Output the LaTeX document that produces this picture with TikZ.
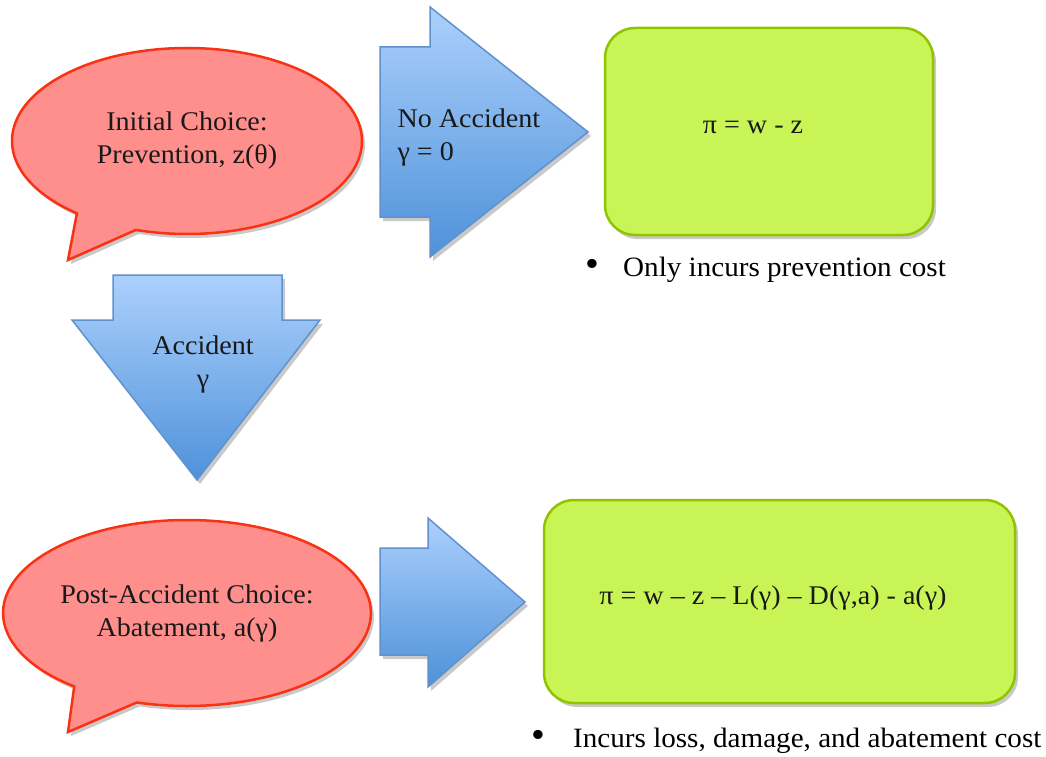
\documentclass[tikz,border=0pt]{standalone}
\usepackage{fontspec}
\setmainfont{Liberation Serif}[FakeStretch=1.04]
\usetikzlibrary{shapes.callouts,shadows}

\definecolor{bubblefill}{RGB}{255,143,140}
\definecolor{bubbleline}{RGB}{250,50,20}
\definecolor{arrowtop}{RGB}{172,208,252}
\definecolor{arrowbot}{RGB}{78,146,218}
\definecolor{arrowline}{RGB}{95,145,205}
\definecolor{boxfill}{RGB}{200,245,85}
\definecolor{boxline}{RGB}{145,196,0}

\tikzset{
  softshadow/.style={drop shadow={shadow xshift=3pt, shadow yshift=-4pt, opacity=0.3, fill=black!70}},
  bubble/.style={ellipse callout, draw=bubbleline, fill=bubblefill, line width=2.5pt,
    minimum width=350pt, minimum height=186pt, callout pointer arc=22, align=center,
    text=black!90, font=\fontsize{27}{33}\selectfont, softshadow},
  payoff/.style={rectangle, rounded corners=30pt, draw=boxline, fill=boxfill, line width=2.5pt, softshadow},
  bigarrow/.style={draw=arrowline, line width=1.5pt, top color=arrowtop, bottom color=arrowbot, softshadow},
  arrowtext/.style={font=\fontsize{27}{33}\selectfont, text=black!90},
  formula/.style={font=\fontsize{27}{30}\selectfont, text=black!90},
  note/.style={font=\fontsize{28}{30}\selectfont, inner sep=0pt, anchor=west}
}
\newcommand{\dotmark}{{\fontsize{38}{30}\selectfont •}}

\begin{document}
\begin{tikzpicture}[x=1pt, y=-1pt]
  \useasboundingbox (0,0) rectangle (1046,757);
  % Choice bubbles
  \node[bubble, callout absolute pointer={(68,260)}] (initial) at (187,141) {Initial Choice:\\Prevention, z(θ)};
  \node[bubble, callout absolute pointer={(68,732)}] (post) at (187,613) {Post-Accident Choice:\\Abatement, a(γ)};
  % No accident arrow
  \draw[bigarrow] (380,47) -- (430,47) -- (430,7) -- (588,132) -- (430,257) -- (430,217) -- (380,217) -- cycle;
  \node[arrowtext, align=left, anchor=west] (noacc) at (394,138) {No Accident\\γ = 0};
  % Accident arrow
  \draw[bigarrow] (113,275) -- (282,275) -- (282,320) -- (320,320) -- (197,480) -- (72,320) -- (113,320) -- cycle;
  \node[arrowtext, align=center] (acc) at (203,365) {Accident\\γ};
  % Arrow to outcome after accident
  \draw[bigarrow] (380,548) -- (428,548) -- (428,518) -- (525,602) -- (428,687) -- (428,655) -- (380,655) -- cycle;
  % Payoff boxes
  \node[payoff, minimum width=328pt, minimum height=207pt] (safebox) at (769,131.5) {};
  \node[formula] (safepay) at (753,127) {π = w - z};
  \node[payoff, minimum width=471pt, minimum height=203pt] (lossbox) at (779.5,601.5) {};
  \node[formula] (losspay) at (773,598) {π = w – z – L(γ) – D(γ,a) - a(γ)};
  % Bullet notes
  \node[note] (safenote) at (585,270) {\makebox[38pt][l]{\dotmark}Only incurs prevention cost};
  \node[note] (lossnote) at (531,741) {\makebox[42pt][l]{\dotmark}Incurs loss, damage, and abatement cost};
\end{tikzpicture}
\end{document}
